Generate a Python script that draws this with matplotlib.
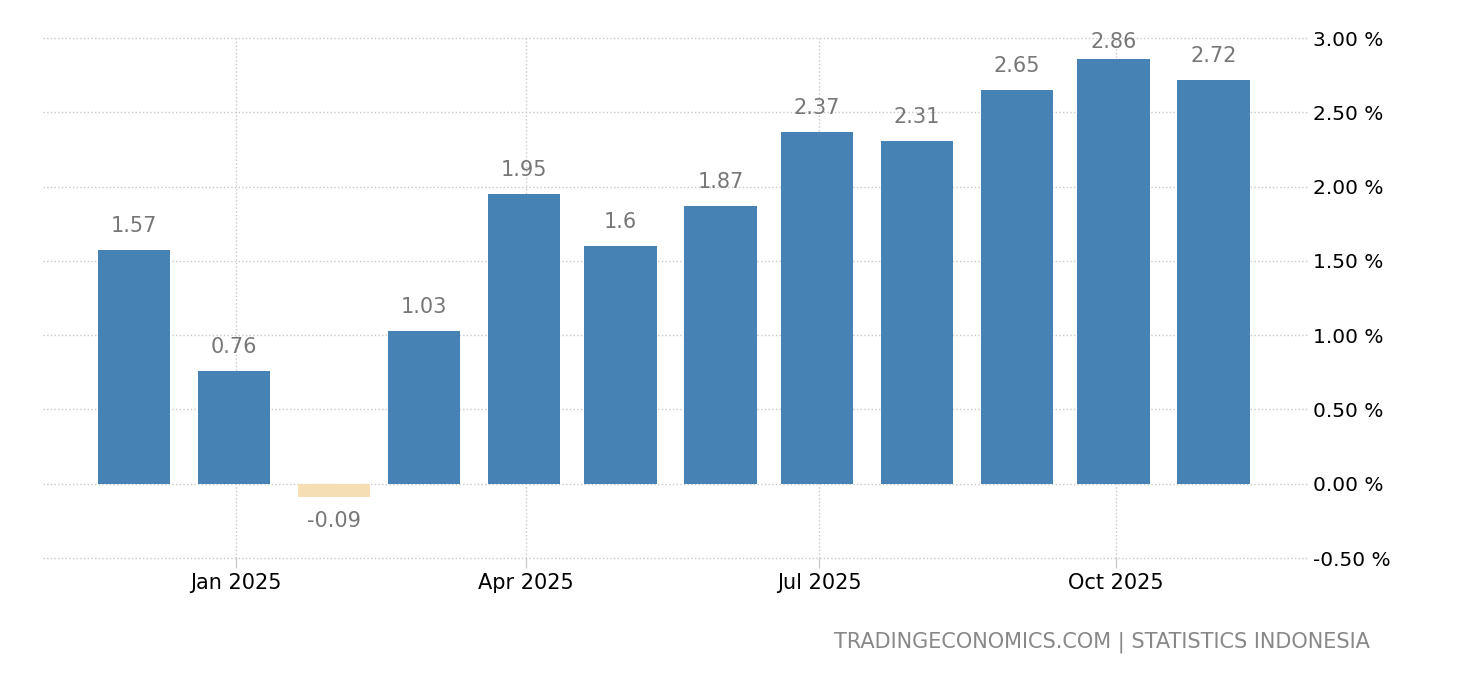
import numpy as np
import pandas as pd
import matplotlib
import matplotlib.pyplot as plt
import matplotlib.dates as mdates
from matplotlib.ticker import FixedLocator, FuncFormatter

matplotlib.use('Agg')

# Monthly values (%), Dec 2024 - Nov 2025
months = pd.date_range('2024-12-01', '2025-11-01', freq='MS')
values = [1.57, 0.76, -0.09, 1.03, 1.95, 1.6, 1.87, 2.37, 2.31, 2.65, 2.86, 2.72]
labels = ['1.57', '0.76', '-0.09', '1.03', '1.95', '1.6', '1.87', '2.37', '2.31', '2.65', '2.86', '2.72']

y_ticks = [-0.5, 0.0, 0.5, 1.0, 1.5, 2.0, 2.5, 3.0]
x_ticks = pd.to_datetime(['2025-01-01', '2025-04-01', '2025-07-01', '2025-10-01'])

POS_COLOR = '#4682B4'
NEG_COLOR = '#F5DEB3'
LABEL_GREY = '#777777'
GRID_GREY = '#c8c8c8'

plt.rcParams['font.family'] = ['DejaVu Sans']

W, H = 1460, 680
fig = plt.figure(figsize=(W / 100, H / 100), dpi=100)
ax = fig.add_axes([43 / W, 1 - 558 / H, (1309 - 43) / W, (558 - 38) / H])

colors = [POS_COLOR if v >= 0 else NEG_COLOR for v in values]
x_num = mdates.date2num(months)
ax.bar(x_num - 0.7, values, width=22.5, color=colors, zorder=3)

ax.set_xlim(mdates.date2num(pd.Timestamp('2024-11-02')),
            mdates.date2num(pd.Timestamp('2025-11-30')))
ax.set_ylim(-0.5, 3.0)

# value labels above (or below for negatives); keep labels inside the top of the plot
top_limit = H - 42  # label centre may not go higher than this (pixels from bottom)
for x, v, lab in zip(x_num - 0.7, values, labels):
    _, bar_px = ax.transData.transform((x, v))
    if v >= 0:
        centre = min(bar_px + 24, top_limit)
    else:
        centre = bar_px - 24
    ax.annotate(lab, (x, v), xytext=(0, centre - bar_px), textcoords='offset pixels',
                ha='center', va='center', fontsize=15, color=LABEL_GREY)

ax.xaxis.set_major_locator(FixedLocator(mdates.date2num(x_ticks)))
ax.xaxis.set_major_formatter(mdates.DateFormatter('%b %Y'))
ax.yaxis.set_major_locator(FixedLocator(y_ticks))
ax.yaxis.set_major_formatter(FuncFormatter(lambda v, p: f'{v:.2f} %'))
ax.yaxis.tick_right()

ax.tick_params(axis='y', length=0, pad=3, labelsize=14.5, colors='black')
ax.tick_params(axis='x', length=7, width=1, color='#cccccc', pad=4, labelsize=15)

ax.grid(True, which='major', linestyle=':', color=GRID_GREY, linewidth=1, zorder=0)
for gl in ax.get_xgridlines() + ax.get_ygridlines():
    gl.set_clip_on(False)
for side in ['top', 'right', 'bottom', 'left']:
    ax.spines[side].set_visible(False)

fig.text(1370 / W, 1 - 642 / H, 'TRADINGECONOMICS.COM | STATISTICS INDONESIA',
         ha='right', va='center', fontsize=15, color='#888888')

fig.savefig('out.png', dpi=100)
